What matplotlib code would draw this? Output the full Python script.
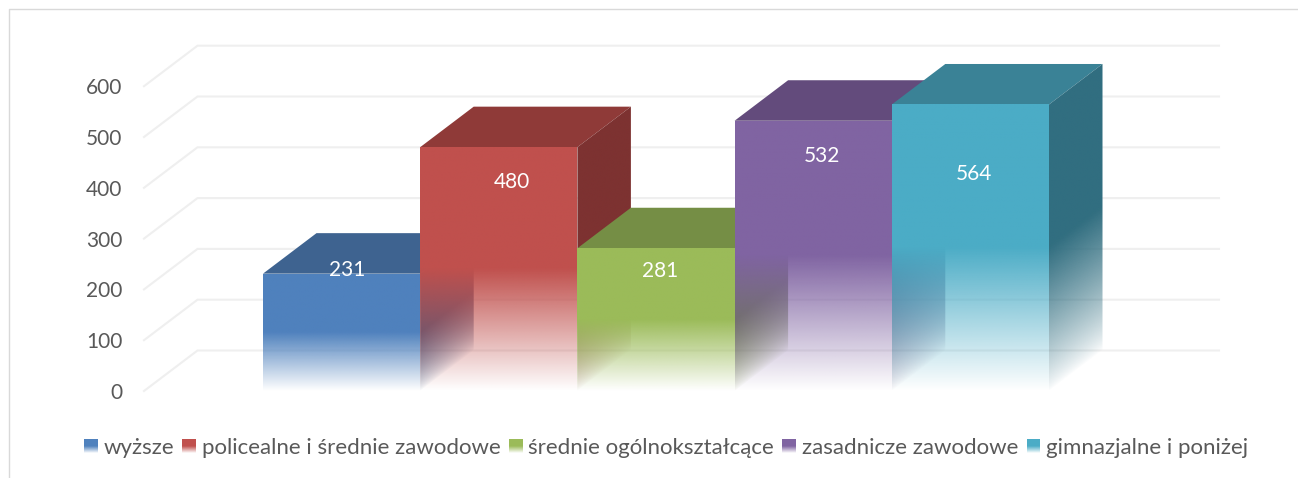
import numpy as np
import matplotlib
matplotlib.use("Agg")
import matplotlib.pyplot as plt
from matplotlib.colors import to_rgb
from matplotlib.lines import Line2D
from matplotlib.patches import Polygon, Rectangle, Patch
from matplotlib.legend_handler import HandlerBase

# ---- data ----
categories = ["wyższe", "policealne i średnie zawodowe", "średnie ogólnokształcące",
              "zasadnicze zawodowe", "gimnazjalne i poniżej"]
values = [231, 480, 281, 532, 564]
yticks = [0, 100, 200, 300, 400, 500, 600]

# ---- styles ----
front_colors = ["#4F81BD", "#C0504D", "#9BBB59", "#8064A2", "#4BACC6"]
top_colors = ["#3E6390", "#8F3A38", "#758E45", "#634B7C", "#3A8296"]
side_colors = ["#3A5C85", "#7D3231", "#667C3C", "#56416D", "#316E80"]
label_x = [0.534, 1.584, 2.525, 3.553, 4.523]
label_y = [238, 412, 236, 463, 427]

W, H = 1298, 478
BAR_PX = 157.2
X0_PX = 263.0
Y0_PX = 391.0
PX_PER_UNIT = 0.508
DEPTH_X = 53.5 / BAR_PX
DEPTH_V = 40.5 / PX_PER_UNIT
FADE = 0.5

plt.rcParams["font.family"] = ["Lato", "DejaVu Sans"]
fig = plt.figure(figsize=(W / 100, H / 100), dpi=100, facecolor="white")

L, R, T, B = 125, 1225, 20, 425
ax = fig.add_axes([L / W, 1 - B / H, (R - L) / W, (B - T) / H])
xlim = ((L - X0_PX) / BAR_PX, (R - X0_PX) / BAR_PX)
ylim = ((Y0_PX - B) / PX_PER_UNIT, (Y0_PX - T) / PX_PER_UNIT)
ax.patch.set_visible(False)
ax.set_frame_on(False)


def face(verts, color, fade_height, skew, z, gamma=1.0):
    """Polygon face with a vertical alpha fade toward the floor."""
    xs, vs = zip(*verts)
    x0, x1, v0, v1 = min(xs), max(xs), min(vs), max(vs)
    nx, ny = 80, 400
    gx = np.linspace(x0, x1, nx)
    gv = np.linspace(v0, v1, ny)
    X, V = np.meshgrid(gx, gv)
    heights = V - skew * (X - x0)
    alpha = np.clip(heights / fade_height, 0, 1) ** gamma
    rgba = np.zeros((ny, nx, 4))
    rgba[..., :3] = to_rgb(color)
    rgba[..., 3] = alpha
    im = ax.imshow(rgba, extent=(x0, x1, v0, v1), origin="lower", aspect="auto",
                   interpolation="bilinear", zorder=z)
    clip = Polygon(verts, closed=True, transform=ax.transData)
    im.set_clip_path(clip)


gx_front = (144.0 - X0_PX) / BAR_PX
gx_back = gx_front + DEPTH_X
gx_end = (1219.0 - X0_PX) / BAR_PX
for t in yticks:
    ax.plot([gx_front, gx_back, gx_end], [t, t + DEPTH_V, t + DEPTH_V],
            color="#EFEFEF", lw=1.5, zorder=0.5, solid_joinstyle="miter", clip_on=False)

z = 1
for i, v in enumerate(values):
    fade_h = FADE * v
    ax.add_patch(Polygon([(i, v), (i + 1, v), (i + 1 + DEPTH_X, v + DEPTH_V), (i + DEPTH_X, v + DEPTH_V)],
                         closed=True, facecolor=top_colors[i], edgecolor="none", zorder=z))
    face([(i + 1, 0), (i + 1 + DEPTH_X, DEPTH_V), (i + 1 + DEPTH_X, v + DEPTH_V), (i + 1, v)],
         side_colors[i], fade_h, DEPTH_V / DEPTH_X, z + 0.1, gamma=0.8)
    face([(i, 0), (i + 1, 0), (i + 1, v), (i, v)], front_colors[i], fade_h, 0, z + 0.2)
    z += 1

for lx, ly, v in zip(label_x, label_y, values):
    ax.text(lx, ly, str(v), color="white", fontsize=15, ha="center", va="center", zorder=20)

ax.set_xlim(xlim)
ax.set_ylim(ylim)
ax.set_xticks([])
ax.set_yticks(yticks)
ax.tick_params(axis="y", length=0, pad=2, labelsize=15, labelcolor="#595959")


class GradientHandle(HandlerBase):
    def create_artists(self, legend, orig, xd, yd, w, h, fontsize, trans):
        n = 14
        arts = []
        col = orig.get_facecolor()
        for k in range(n):
            a = min(1.0, (k + 0.5) / (n * 0.5))
            r = Rectangle((xd * -1, -yd + h * k / n), w, h / n * 1.05, facecolor=col,
                          alpha=a, edgecolor="none", transform=trans)
            arts.append(r)
        return arts


handles = [Patch(facecolor=c) for c in front_colors]
leg = fig.legend(handles, categories, ncol=5, frameon=False, fontsize=16,
                 labelcolor="#595959", handler_map={Patch: GradientHandle()},
                 handlelength=0.62, handleheight=0.62, handletextpad=0.25, columnspacing=0.38,
                 loc="center left", bbox_to_anchor=(84 / W, 1 - 448 / H),
                 borderpad=0, borderaxespad=0)

fig.add_artist(Line2D([8.5 / W, 8.5 / W, 1.0], [0, 1 - 9.0 / H, 1 - 9.0 / H],
                      transform=fig.transFigure, color="#D9D9D9", lw=1.0))

fig.savefig("out.png", dpi=100)
